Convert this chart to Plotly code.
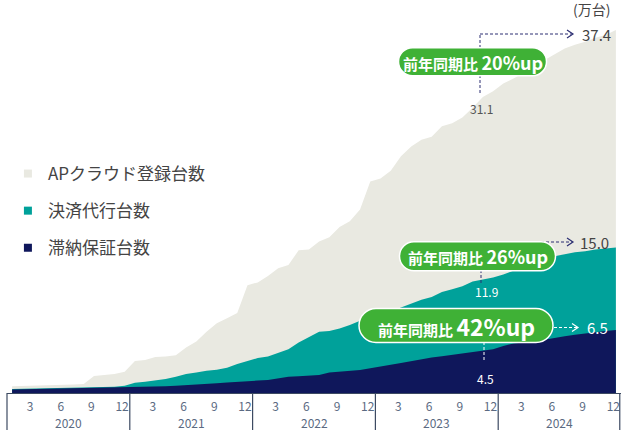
import plotly.graph_objects as go

# Monthly figures, Jan 2020 - Dec 2024 (unit: 10,000)
months = list(range(60))
years = ['2020', '2021', '2022', '2023', '2024']
month_ticks = ['3', '6', '9', '12']

ap_cloud = [0.70, 0.72, 0.75, 0.78, 0.82, 0.85, 0.88, 0.93, 1.75, 1.85, 1.95, 2.2,
            3.3, 3.4, 3.7, 3.75, 3.9, 4.7, 5.3, 6.3, 7.2, 7.7, 8.25, 11.1,
            11.4, 12.05, 12.85, 13.2, 14.7, 14.8, 15.6, 16.05, 17.1, 17.7, 18.9, 21.8,
            22.1, 22.9, 24.4, 25.4, 26.1, 26.4, 27.5, 27.8, 28.4, 29.4, 30.5, 31.1,
            31.9, 32.4, 33.0, 33.6, 34.3, 34.9, 35.5, 35.9, 36.2, 36.6, 36.9, 37.4]
payment = [0.40, 0.42, 0.45, 0.48, 0.50, 0.52, 0.54, 0.56, 0.58, 0.60, 0.65, 0.75,
           1.06, 1.15, 1.27, 1.45, 1.68, 1.96, 2.1, 2.3, 2.4, 2.6, 3.0, 3.3,
           3.6, 3.75, 4.1, 4.5, 5.2, 5.75, 6.3, 6.4, 6.65, 7.0, 7.45, 7.8,
           8.1, 8.4, 8.8, 9.2, 9.6, 9.9, 10.4, 10.7, 11.0, 11.5, 11.7, 11.9,
           12.2, 12.6, 13.0, 13.5, 13.8, 14.1, 14.3, 14.5, 14.6, 14.8, 14.9, 15.0]
guarantee = [0.35, 0.37, 0.40, 0.42, 0.44, 0.46, 0.48, 0.50, 0.50, 0.52, 0.53, 0.55,
             0.57, 0.60, 0.63, 0.70, 0.75, 0.80, 0.86, 0.92, 1.0, 1.08, 1.17, 1.22,
             1.28, 1.34, 1.5, 1.68, 1.72, 1.78, 1.86, 2.1, 2.2, 2.27, 2.37, 2.55,
             2.7, 2.9, 3.1, 3.3, 3.5, 3.65, 3.8, 3.95, 4.1, 4.25, 4.4, 4.5,
             4.85, 5.1, 5.2, 5.4, 5.5, 5.7, 5.85, 6.0, 6.1, 6.25, 6.4, 6.5]

names = ['APクラウド登録台数', '決済代行台数', '滞納保証台数']
colors = ['#e9e9e1', '#00a19a', '#0f175b']
GREEN = '#3fb136'
DASH_DARK = '#2c2f72'
FONT = 'Noto Sans CJK JP'

fig = go.Figure()

# overlapping areas, each drawn from zero
for vals, name, col in zip([ap_cloud, payment, guarantee], names, colors):
    fig.add_trace(go.Scatter(x=months, y=vals, mode='lines', line=dict(width=0, color=col),
                             fill='tozeroy', fillcolor=col, hoverinfo='skip', showlegend=False))

# legend entries with small squares
for i, (name, col) in enumerate(zip(names, colors)):
    fig.add_trace(go.Scatter(x=[None], y=[None], mode='markers', name=name, legendgroup=str(i),
                             marker=dict(symbol='square', size=8, color=col)))

# month labels sit a little left of each month's point
tickvals = [m - 0.25 for m in months if (m % 12 + 1) % 3 == 0]
ticktext = month_ticks * len(years)


# pixel position in the 621x430 picture -> paper coordinates
def pp(x, y):
    return (x - 7) / 614, (393 - y) / 393


def pill(w, h):
    r = h / 2
    k = 0.5523 * r
    a = w / 2 - r
    return (f'M{-a},{r} L{a},{r} C{a + k},{r} {w / 2},{k} {w / 2},0 '
            f'C{w / 2},{-k} {a + k},{-r} {a},{-r} L{-a},{-r} '
            f'C{-a - k},{-r} {-w / 2},{-k} {-w / 2},0 C{-w / 2},{k} {-a - k},{r} {-a},{r} Z')


shapes = []
annotations = []

# year separators under the axis
for b in range(len(years) + 1):
    xb = min(b * 12 / 60, 0.998)
    shapes.append(dict(type='line', xref='paper', yref='paper', x0=xb, x1=xb, y0=0, y1=-37 / 393,
                       line=dict(color='#3d4a62', width=1.2)))
for i, yr in enumerate(years):
    annotations.append(dict(x=i * 12 + 5.5, y=-29 / 393, xref='x', yref='paper', text=yr,
                            xanchor='center', yanchor='middle', showarrow=False,
                            font=dict(size=12, color='#5b6a82', family=FONT)))


def dashed(x0, y0, x1, y1, col):
    a = pp(x0, y0)
    b = pp(x1, y1)
    shapes.append(dict(type='line', xref='paper', yref='paper', x0=a[0], y0=a[1], x1=b[0], y1=b[1],
                       line=dict(color=col, width=1, dash='3px,2px')))


def chevron(x, y, col):
    ax, ay = pp(x, y)
    shapes.append(dict(type='path', xref='paper', yref='paper', xsizemode='pixel', ysizemode='pixel',
                       xanchor=ax, yanchor=ay, path='M-6,4 L0,0 L-6,-4',
                       line=dict(color=col, width=1.2)))


def label(x, y, text, size, col):
    ax, ay = pp(x, y)
    annotations.append(dict(x=ax, y=ay, xref='paper', yref='paper', text=text, showarrow=False,
                            xanchor='center', yanchor='middle',
                            font=dict(size=size, color=col, family=FONT)))


def bubble(cx, cy, w, h, text):
    ax, ay = pp(cx, cy)
    shapes.append(dict(type='path', xref='paper', yref='paper', xsizemode='pixel', ysizemode='pixel',
                       xanchor=ax, yanchor=ay, path=pill(w, h), fillcolor=GREEN,
                       line=dict(color='white', width=1.5)))
    label(cx, cy, text, 15, 'white')


# AP cloud: 31.1 -> 37.4
dashed(480, 93, 480, 34, DASH_DARK)
dashed(480, 34, 572, 34, DASH_DARK)
chevron(573, 34, DASH_DARK)
bubble(472.5, 61.7, 148, 28, '<b>前年同期比 <span style="font-size:18px">20%up</span></b>')
label(596, 34, '37.4', 15, '#444444')
label(481, 108, '31.1', 12, '#555555')

# payment: 11.9 -> 15.0
dashed(481, 283, 481, 242, DASH_DARK)
dashed(481, 242, 572, 242, DASH_DARK)
chevron(573, 242, DASH_DARK)
bubble(477.5, 256.2, 156, 29, '<b>前年同期比 <span style="font-size:18px">26%up</span></b>')
label(594, 242, '15.0', 15, '#444444')
label(486, 291, '11.9', 12, 'white')

# guarantee: 4.5 -> 6.5
dashed(484, 360, 484, 327.5, 'white')
dashed(484, 327.5, 577, 327.5, 'white')
chevron(578, 327.5, 'white')
bubble(456, 325.5, 194, 34, '<b>前年同期比 <span style="font-size:23px">42%up</span></b>')
label(597, 327.5, '6.5', 15, 'white')
label(485, 378, '4.5', 12, 'white')

label(591, 9, '(万台)', 14, '#444444')

fig.update_layout(
    width=621, height=430,
    margin=dict(l=7, r=0, t=0, b=37),
    paper_bgcolor='white', plot_bgcolor='white',
    font=dict(family=FONT, color='#444444'),
    showlegend=True,
    legend=dict(x=0.0015, y=(393 - 156) / 393, xanchor='left', yanchor='top',
                font=dict(size=17, color='#444444', family=FONT),
                tracegroupgap=12, bgcolor='rgba(0,0,0,0)'),
    xaxis=dict(range=[-0.5, 59.5], tickvals=tickvals, ticktext=ticktext, ticks='',
               ticklabelstandoff=2, ticklabeloverflow='allow',
               showline=True, linecolor='#3d4a62', linewidth=1.2, showgrid=False, zeroline=False,
               tickfont=dict(size=12, color='#5b6a82', family=FONT), fixedrange=True),
    yaxis=dict(range=[0, 40.5], visible=False, showgrid=False, zeroline=False, fixedrange=True),
    shapes=shapes,
    annotations=annotations,
)

fig.write_html('out.html', config={'displayModeBar': False},
               post_script="document.body.style.margin='0';")
